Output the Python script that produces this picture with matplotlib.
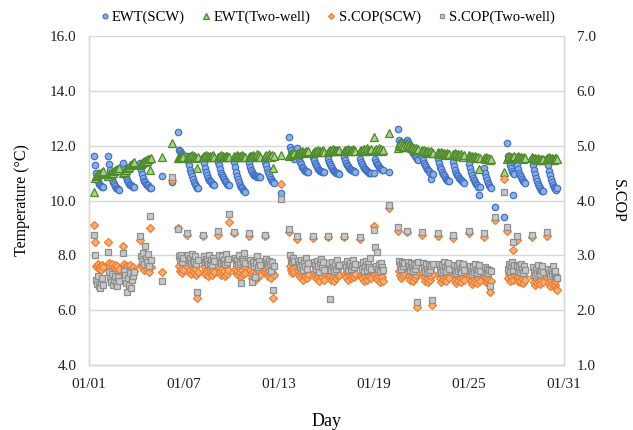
import matplotlib
matplotlib.use('Agg')
import matplotlib.pyplot as plt
import numpy as np

plt.rcParams['font.family'] = ['Liberation Serif', 'DejaVu Serif']

# one row per operating period: date index (0 = Jan 1), first sample hour
GROUP_DAY = [0, 1, 2, 3, 4, 5, 5, 6, 7, 8, 9, 10, 11, 12, 12, 13, 14, 15, 16, 17,
             18, 18, 19, 20, 21, 22, 23, 24, 24, 25, 26, 26, 26, 27, 27, 28]
GROUP_HOUR = [8, 5, 4, 5, 14.2, 6.2, 15.5, 5, 5, 4, 4, 3, 3.5, 2.4, 15, 3, 3, 2, 2.5, 2.5,
              0, 22.8, 13, 1.7, 0.5, 0.5, 0.5, 0, 23.3, 15.6, 4.8, 18.2, 9.6, 0, 23.3, 21.6]
STEP_HOURS = 1.5

EWT_SCW = [
    [11.62, 11.30, 11.00, 10.85, 10.72, 10.62, 10.56, 10.52, 10.50, 10.48],
    [11.62, 11.35, 11.10, 10.92, 10.78, 10.68, 10.60, 10.52, 10.47, 10.44, 10.42, 10.40],
    [11.36, 11.15, 10.98, 10.85, 10.75, 10.68, 10.62, 10.58, 10.55, 10.52, 10.50, 10.48],
    [11.36, 11.12, 10.95, 10.82, 10.72, 10.66, 10.62, 10.58, 10.55, 10.50, 10.47, 10.45],
    [10.90],
    [10.69],
    [12.50, 11.85, 11.80, 11.72, 11.70, 11.65],
    [11.62, 11.45, 11.28, 11.12, 11.00, 10.88, 10.78, 10.68, 10.60, 10.52, 10.47, 10.45],
    [11.55, 11.36, 11.20, 11.05, 10.92, 10.82, 10.75, 10.70, 10.66, 10.62, 10.60, 10.58],
    [11.42, 11.28, 11.15, 11.02, 10.92, 10.84, 10.78, 10.72, 10.66, 10.62, 10.58, 10.57],
    [11.42, 11.22, 11.05, 10.90, 10.78, 10.68, 10.58, 10.50, 10.44, 10.38, 10.34, 10.32],
    [11.36, 11.22, 11.12, 11.04, 10.98, 10.94, 10.90, 10.88, 10.86, 10.88, 10.85, 10.87],
    [11.42, 11.28, 11.15, 11.05, 10.95, 10.86, 10.78, 10.72, 10.66, 10.63],
    [10.26],
    [12.33, 11.96, 11.85, 11.75, 11.62, 11.50],
    [11.90, 11.72, 11.56, 11.42, 11.32, 11.24, 11.18, 11.12, 11.08, 11.06, 11.05, 11.04],
    [11.60, 11.48, 11.38, 11.30, 11.22, 11.16, 11.12, 11.08, 11.06, 11.05, 11.04, 11.03],
    [11.50, 11.40, 11.32, 11.25, 11.18, 11.12, 11.08, 11.05, 11.02, 11.00, 10.99, 10.98],
    [11.60, 11.48, 11.38, 11.30, 11.25, 11.20, 11.16, 11.12, 11.10, 11.08, 11.06, 11.05],
    [11.50, 11.40, 11.32, 11.26, 11.20, 11.15, 11.10, 11.06, 11.03, 11.01, 11.00, 10.99],
    [11.00, 11.50, 11.42, 11.35, 11.28, 11.22, 11.18, 11.14, 11.12, 11.10],
    [11.05],
    [12.60, 12.20, 12.05, 12.12, 12.00, 11.95, 11.90],
    [12.22, 12.12, 12.05, 11.98, 11.90, 11.82, 11.75, 11.68, 11.62, 11.58, 11.52, 11.48],
    [11.60, 11.48, 11.38, 11.30, 11.22, 11.15, 11.10, 11.06, 11.02, 10.80, 10.98, 10.96],
    [11.50, 11.36, 11.24, 11.14, 11.05, 10.98, 10.92, 10.86, 10.80, 10.76, 10.72, 10.70],
    [11.40, 11.25, 11.12, 11.02, 10.94, 10.88, 10.82, 10.78, 10.74, 10.70, 10.66, 10.64],
    [11.35, 11.18, 11.04, 10.92, 10.82, 10.74, 10.66, 10.60, 10.55, 10.50, 10.20, 10.48],
    [11.20, 11.00, 10.86, 10.74, 10.64, 10.56, 10.50, 10.46],
    [9.77],
    [9.41],
    [10.20],
    [12.10, 11.62, 11.45, 11.30, 11.18, 11.08, 11.00, 10.95],
    [11.45, 11.30, 11.15, 11.02, 10.92, 10.84, 10.78, 10.72, 10.68, 10.65],
    [11.50, 11.30, 11.12, 10.96, 10.82, 10.70, 10.60, 10.52, 10.46, 10.40, 10.36, 10.33],
    [11.50, 11.28, 11.08, 10.92, 10.78, 10.66, 10.58, 10.50, 10.45, 10.42, 10.40, 10.45],
]

EWT_TWO = [
    [10.30, 10.82, 10.88, 10.92, 10.96, 11.00, 10.95, 11.02, 11.05, 11.08],
    [10.90, 10.95, 10.98, 11.00, 11.05, 11.02, 11.08, 11.10, 11.12, 11.15, 11.12, 11.18],
    [11.00, 11.05, 11.10, 11.12, 11.18, 11.20, 11.22, 11.28, 11.30, 11.35, 11.38, 11.40],
    [11.30, 11.35, 11.38, 11.42, 11.45, 11.40, 11.48, 11.45, 11.50, 11.52, 11.10, 11.55],
    [11.58],
    [12.10],
    [11.55, 11.55, 11.60, 11.58, 11.62, 11.60],
    [11.55, 11.60, 11.58, 11.62, 11.60, 11.65, 11.58, 11.62, 11.60, 11.56, 11.18, 11.60],
    [11.58, 11.62, 11.60, 11.65, 11.60, 11.62, 11.58, 11.64, 11.60, 11.62, 11.65, 11.60],
    [11.60, 11.58, 11.62, 11.65, 11.60, 11.62, 11.58, 11.60, 11.64, 11.62, 11.60, 11.58],
    [11.62, 11.58, 11.60, 11.65, 11.62, 11.58, 11.62, 11.60, 11.66, 11.62, 11.58, 11.60],
    [11.60, 11.64, 11.62, 11.58, 11.66, 11.62, 11.60, 11.64, 11.70, 11.62, 11.66, 11.60],
    [11.62, 11.66, 11.60, 11.64, 11.68, 11.62, 11.60, 11.66, 11.20, 11.64],
    [11.66],
    [11.62, 11.70, 11.66, 11.72, 11.68, 11.74],
    [11.70, 11.75, 11.72, 11.78, 11.74, 11.80, 11.76, 11.72, 11.78, 11.82, 11.76, 11.80],
    [11.75, 11.78, 11.82, 11.76, 11.80, 11.84, 11.78, 11.82, 11.76, 11.80, 11.85, 11.78],
    [11.78, 11.82, 11.85, 11.80, 11.84, 11.88, 11.82, 11.86, 11.80, 11.84, 11.82, 11.86],
    [11.80, 11.84, 11.86, 11.82, 11.88, 11.84, 11.80, 11.86, 11.82, 11.88, 11.84, 11.80],
    [11.82, 11.86, 11.80, 11.84, 11.88, 11.82, 11.86, 11.90, 11.84, 11.80, 11.86, 11.88],
    [12.33, 11.85, 11.88, 11.82, 11.86, 11.90, 11.84, 11.88, 11.82, 11.86],
    [12.45],
    [11.90, 12.05, 11.98, 12.10, 12.02, 11.95, 12.00],
    [12.05, 11.98, 12.02, 11.95, 11.90, 11.96, 11.88, 11.92, 11.86, 11.90, 11.84, 11.88],
    [11.85, 11.80, 11.84, 11.78, 11.82, 11.76, 11.80, 11.74, 11.78, 11.80, 11.75, 11.72],
    [11.78, 11.74, 11.70, 11.76, 11.72, 11.68, 11.74, 11.70, 11.66, 11.72, 11.68, 11.70],
    [11.70, 11.66, 11.72, 11.68, 11.64, 11.70, 11.66, 11.62, 11.68, 11.64, 11.60, 11.66],
    [11.66, 11.62, 11.58, 11.64, 11.60, 11.56, 11.62, 11.58, 11.54, 11.60, 11.14, 11.56],
    [11.56, 11.52, 11.58, 11.54, 11.50, 11.56, 11.48, 11.52],
    [None],
    [11.05],
    [11.55],
    [11.50, 11.58, 11.62, 11.56, 11.60, 11.54, 11.58, 11.62],
    [11.60, 11.56, 11.62, 11.58, 11.54, 11.60, 11.56, 11.52, 11.58, 11.54],
    [11.58, 11.54, 11.50, 11.56, 11.52, 11.48, 11.54, 11.50, 11.46, 11.52, 11.48, 11.50],
    [11.56, 11.52, 11.58, 11.54, 11.50, 11.56, 11.52, 11.48, 11.54, 11.50, 11.56, 11.52],
]

COP_SCW = [
    [3.55, 3.25, 2.80, 2.78, 2.84, 2.76, 2.80, 2.74, 2.82, 2.78],
    [3.25, 2.86, 2.80, 2.76, 2.84, 2.72, 2.78, 2.82, 2.74, 2.80, 2.70, 2.76],
    [3.18, 2.84, 2.78, 2.72, 2.80, 2.76, 2.70, 2.82, 2.74, 2.62, 2.78, 2.72],
    [3.28, 2.82, 2.78, 2.86, 2.74, 2.80, 2.88, 2.76, 2.84, 2.70, 3.50, 2.78],
    [2.69],
    [4.38],
    [3.50, 2.80, 2.72, 2.76, 2.68, 2.74],
    [3.37, 2.78, 2.70, 2.74, 2.66, 2.80, 2.72, 2.68, 2.76, 2.64, 2.22, 2.70],
    [3.35, 2.80, 2.66, 2.74, 2.70, 2.62, 2.78, 2.68, 2.72, 2.64, 2.76, 2.70],
    [3.38, 2.78, 2.70, 2.64, 2.76, 2.68, 2.72, 2.62, 2.80, 2.66, 2.74, 3.60],
    [3.40, 2.76, 2.68, 2.72, 2.64, 2.78, 2.70, 2.62, 2.74, 2.66, 2.80, 2.68],
    [3.36, 2.74, 2.66, 2.58, 2.70, 2.62, 2.55, 2.68, 2.76, 2.60, 2.72, 2.64],
    [3.35, 2.76, 2.68, 2.62, 2.72, 2.66, 2.58, 2.70, 2.22, 2.64],
    [4.30],
    [3.42, 2.80, 2.74, 2.68, 2.76, 2.70],
    [3.30, 2.72, 2.66, 2.60, 2.70, 2.64, 2.56, 2.68, 2.62, 2.74, 2.58, 2.66],
    [3.32, 2.70, 2.64, 2.58, 2.68, 2.62, 2.54, 2.66, 2.72, 2.60, 2.68, 2.56],
    [3.33, 2.68, 2.62, 2.56, 2.70, 2.60, 2.54, 2.66, 2.58, 2.72, 2.62, 2.64],
    [3.33, 2.66, 2.60, 2.70, 2.56, 2.64, 2.68, 2.58, 2.62, 2.72, 2.60, 2.66],
    [3.30, 2.64, 2.58, 2.68, 2.54, 2.62, 2.70, 2.56, 2.64, 2.60, 2.74, 2.58],
    [3.53, 2.66, 2.58, 2.70, 2.56, 2.62, 2.52, 2.66, 2.60, 2.54],
    [3.87],
    [3.45, 2.72, 2.64, 2.58, 2.70, 2.62, 2.68],
    [3.42, 2.70, 2.62, 2.56, 2.68, 2.60, 2.54, 2.66, 2.58, 2.64, 2.06, 2.70],
    [3.38, 2.68, 2.60, 2.54, 2.66, 2.58, 2.52, 2.64, 2.56, 2.62, 2.09, 2.66],
    [3.35, 2.66, 2.58, 2.52, 2.64, 2.56, 2.70, 2.60, 2.54, 2.62, 2.68, 2.58],
    [3.32, 2.64, 2.56, 2.50, 2.62, 2.54, 2.68, 2.58, 2.52, 2.60, 2.66, 2.56],
    [3.40, 2.62, 2.54, 2.48, 2.60, 2.52, 2.66, 2.56, 2.50, 2.58, 2.64, 2.54],
    [3.33, 2.60, 2.52, 2.58, 2.50, 2.56, 2.33, 2.54],
    [3.65],
    [4.39],
    [3.10],
    [3.45, 2.58, 2.66, 2.54, 2.62, 2.70, 2.56, 2.64],
    [3.28, 2.62, 2.54, 2.60, 2.52, 2.66, 2.58, 2.50, 2.62, 2.56],
    [3.33, 2.60, 2.52, 2.46, 2.58, 2.50, 2.64, 2.54, 2.48, 2.56, 2.62, 2.52],
    [3.36, 2.58, 2.50, 2.44, 2.56, 2.48, 2.62, 2.52, 2.46, 2.54, 2.38, 2.36],
]

COP_TWO = [
    [3.37, 3.00, 2.55, 2.48, 2.62, 2.44, 2.40, 2.52, 2.58, 2.46],
    [3.07, 2.70, 2.58, 2.52, 2.66, 2.46, 2.56, 2.62, 2.50, 2.44, 2.60, 2.54],
    [3.04, 2.72, 2.64, 2.50, 2.34, 2.58, 2.46, 2.68, 2.40, 2.55, 2.62, 2.70],
    [3.35, 2.98, 2.90, 3.05, 2.85, 3.17, 2.95, 2.88, 3.02, 2.80, 3.72, 2.92],
    [2.54],
    [4.43],
    [3.48, 2.98, 2.92, 3.00, 2.88, 2.95],
    [3.40, 3.00, 2.92, 2.96, 2.86, 3.02, 2.90, 2.88, 2.98, 2.84, 2.33, 2.92],
    [3.37, 2.98, 2.88, 2.94, 2.90, 2.84, 3.00, 2.86, 2.92, 2.82, 2.96, 2.90],
    [3.44, 3.00, 2.90, 2.86, 2.98, 2.88, 2.92, 2.84, 3.02, 2.88, 2.94, 3.75],
    [3.42, 2.96, 2.86, 2.92, 2.84, 3.00, 2.88, 2.49, 2.94, 2.90, 3.04, 2.86],
    [3.40, 2.92, 2.84, 2.52, 2.88, 2.80, 2.60, 2.86, 2.98, 2.78, 2.90, 2.82],
    [3.38, 2.94, 2.86, 2.80, 2.90, 2.84, 2.72, 2.88, 2.37, 2.80],
    [4.03],
    [3.48, 3.00, 2.92, 2.88, 2.96, 2.90],
    [3.36, 2.90, 2.84, 2.78, 2.92, 2.82, 2.74, 2.88, 2.80, 2.96, 2.76, 2.86],
    [3.36, 2.88, 2.82, 2.76, 2.90, 2.80, 2.70, 2.86, 2.94, 2.78, 2.88, 2.74],
    [3.36, 2.86, 2.20, 2.74, 2.88, 2.78, 2.72, 2.84, 2.76, 2.92, 2.80, 2.82],
    [3.36, 2.84, 2.78, 2.90, 2.74, 2.82, 2.86, 2.76, 2.80, 2.92, 2.78, 2.84],
    [3.34, 2.82, 2.76, 2.88, 2.72, 2.80, 2.90, 2.74, 2.84, 2.78, 2.96, 2.76],
    [3.47, 3.16, 2.80, 3.07, 2.76, 2.84, 2.72, 2.86, 2.78, 2.74],
    [3.92],
    [3.51, 2.90, 2.82, 2.76, 2.88, 2.80, 2.86],
    [3.45, 2.88, 2.80, 2.74, 2.86, 2.78, 2.72, 2.84, 2.76, 2.82, 2.15, 2.88],
    [3.42, 2.86, 2.78, 2.72, 2.84, 2.76, 2.70, 2.82, 2.74, 2.80, 2.18, 2.84],
    [3.40, 2.84, 2.76, 2.70, 2.82, 2.74, 2.88, 2.78, 2.72, 2.80, 2.86, 2.76],
    [3.37, 2.82, 2.74, 2.68, 2.80, 2.72, 2.86, 2.76, 2.70, 2.78, 2.84, 2.74],
    [3.45, 2.80, 2.72, 2.66, 2.78, 2.70, 2.84, 2.74, 2.68, 2.76, 2.82, 2.72],
    [3.40, 2.78, 2.70, 2.76, 2.68, 2.74, 2.45, 2.72],
    [3.70],
    [4.16],
    [3.25],
    [3.51, 2.76, 2.84, 2.72, 2.80, 2.88, 2.74, 2.82],
    [3.36, 2.80, 2.72, 2.78, 2.70, 2.84, 2.76, 2.68, 2.80, 2.74],
    [3.38, 2.78, 2.70, 2.64, 2.76, 2.68, 2.82, 2.72, 2.66, 2.74, 2.80, 2.70],
    [3.42, 2.76, 2.68, 2.62, 2.74, 2.66, 2.80, 2.70, 2.64, 2.72, 2.60, 2.58],
]

TICK_DAYS = [0, 6, 12, 18, 24, 30]
TICK_LABELS = ['01/01', '01/07', '01/13', '01/19', '01/25', '01/31']


def flatten(rows):
    xs, ys = [], []
    for day, hour, vals in zip(GROUP_DAY, GROUP_HOUR, rows):
        for k, v in enumerate(vals):
            if v is None:
                continue
            xs.append(day + (hour + STEP_HOURS * k) / 24.0)
            ys.append(v)
    return np.array(xs), np.array(ys)


fig = plt.figure(figsize=(6.33, 4.30), dpi=100)
ax = fig.add_axes([0.1406, 0.151, 0.7504, 0.7653])
ax2 = ax.twinx()

grid_c = '#D9D9D9'
x, y = flatten(EWT_SCW)
ax.plot(x, y, 'o', ms=4.6, mfc='#8AB0E6', mec='#4472C4', mew=0.9, label='EWT(SCW)')
x, y = flatten(EWT_TWO)
ax.plot(x, y, '^', ms=5.2, mfc='#A9D18E', mec='#4F8A2A', mew=0.9, label='EWT(Two-well)')
x, y = flatten(COP_SCW)
ax2.plot(x, y, 'D', ms=3.9, mfc='#F6AE78', mec='#ED7D31', mew=0.9, label='S.COP(SCW)')
x, y = flatten(COP_TWO)
ax2.plot(x, y, 's', ms=4.4, mfc='#C8C8C8', mec='#8E8E8E', mew=0.9, label='S.COP(Two-well)')

ax.set_xlim(0, 30)
ax.set_ylim(4, 16)
ax2.set_ylim(1, 7)
ax.set_yticks(np.arange(4, 16.1, 2))
ax2.set_yticks(np.arange(1, 7.1, 1))
ax.set_yticklabels([f'{v:.1f}' for v in np.arange(4, 16.1, 2)])
ax2.set_yticklabels([f'{v:.1f}' for v in np.arange(1, 7.1, 1)])
ax.set_xticks(TICK_DAYS)
ax.set_xticklabels(TICK_LABELS)

ax.grid(axis='y', color=grid_c, lw=1.0)
ax.set_axisbelow(True)
for a in (ax, ax2):
    a.spines['top'].set_visible(False)
    for s in ('left', 'right', 'bottom'):
        a.spines[s].set_color(grid_c)
        a.spines[s].set_linewidth(1.0)
    a.tick_params(length=0, labelsize=11, colors='#222222')
ax.tick_params(axis='y', pad=9)
ax.tick_params(axis='x', pad=9)
ax2.tick_params(axis='y', pad=9)

ax.set_ylabel('Temperature (\u00b0C)', fontsize=11.5, labelpad=14)
ax2.set_ylabel('S.COP', fontsize=11.5, rotation=270, labelpad=22)
ax.set_xlabel('Day', fontsize=13, labelpad=16)

h1, l1 = ax.get_legend_handles_labels()
h2, l2 = ax2.get_legend_handles_labels()
leg = ax.legend(h1 + h2, l1 + l2, loc='lower center', bbox_to_anchor=(0.5, 1.005), ncol=4,
                frameon=False, fontsize=10.5, handletextpad=0.05, columnspacing=1.0,
                markerscale=0.75, handlelength=0.9, borderaxespad=0.3)

fig.savefig('out.png', dpi=100)
